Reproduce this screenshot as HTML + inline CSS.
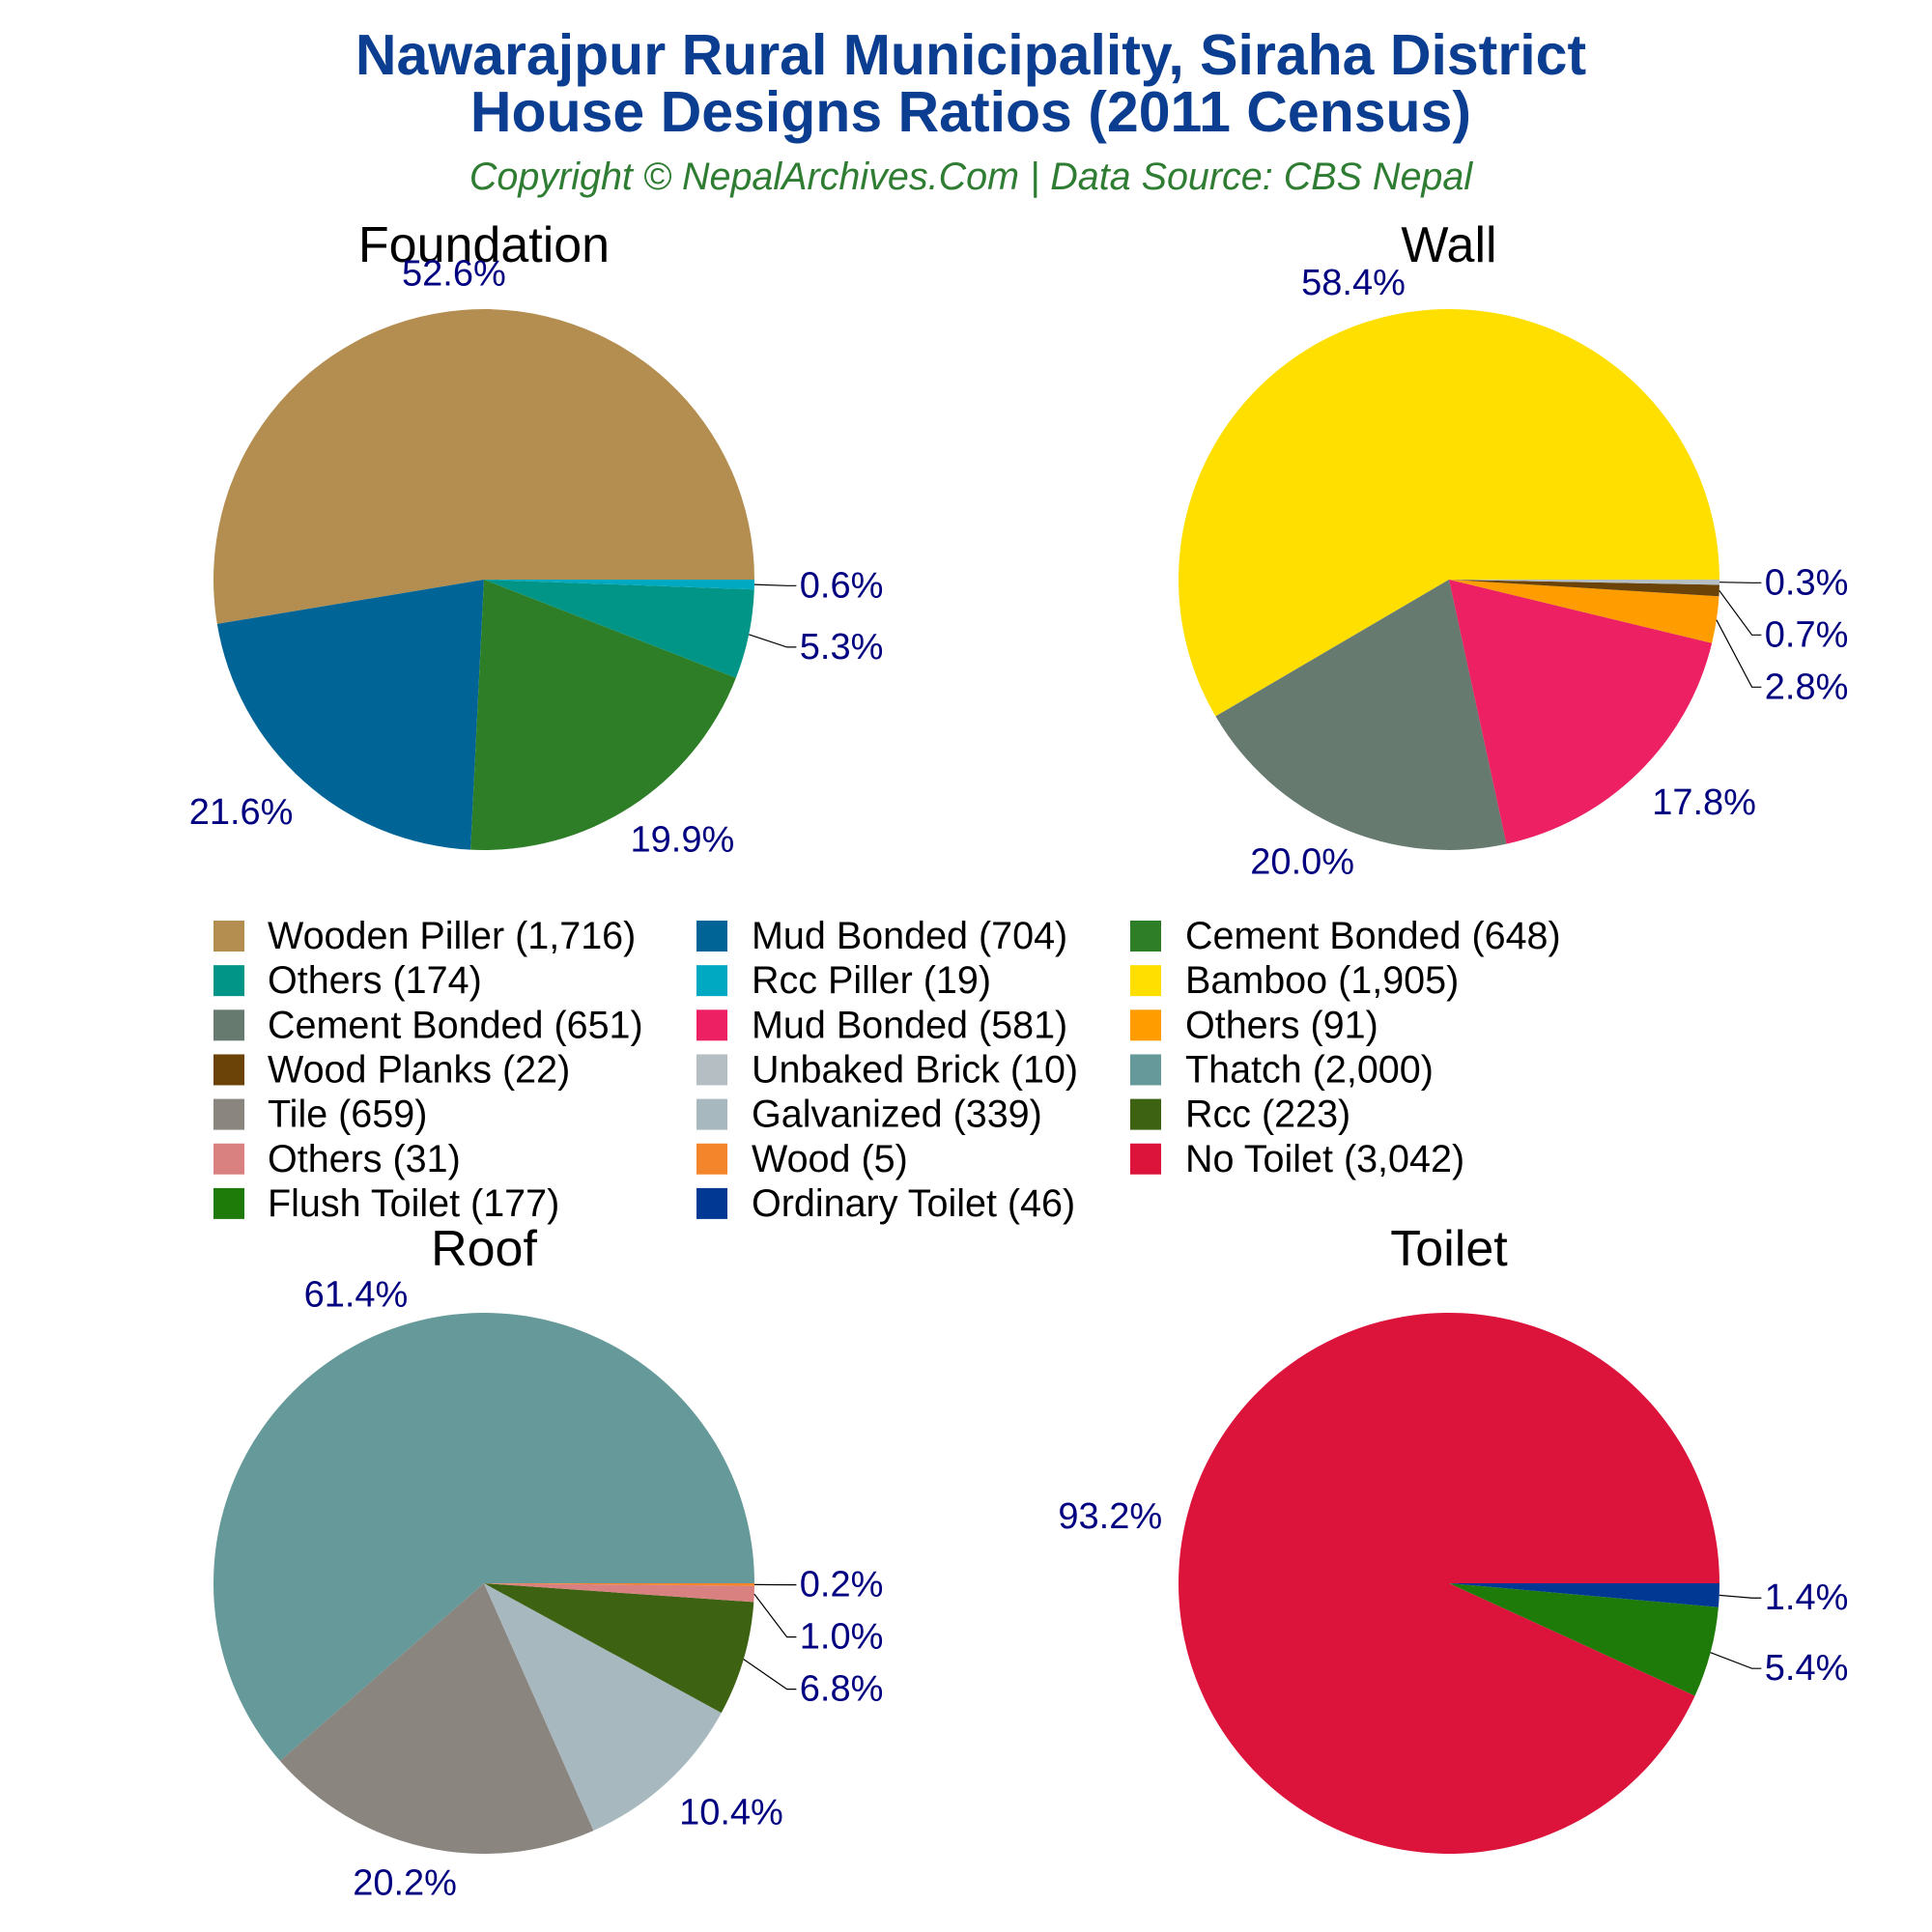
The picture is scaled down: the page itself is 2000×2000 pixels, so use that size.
<!DOCTYPE html>
<html><head><meta charset="utf-8"><style>
html,body{margin:0;padding:0;background:#fff;}
svg{display:block;font-family:"Liberation Sans",Arial,sans-serif;}
</style></head><body>
<svg id="chart" width="2000" height="2000" viewBox="0 0 2000 2000" xmlns="http://www.w3.org/2000/svg">
<rect width="2000" height="2000" fill="#fff"/>
<text x="1005" y="57" text-anchor="middle" dominant-baseline="central" font-size="59" font-weight="bold" fill="#0B3D91">Nawarajpur Rural Municipality, Siraha District</text>
<text x="1005" y="116" text-anchor="middle" dominant-baseline="central" font-size="59" font-weight="bold" fill="#0B3D91">House Designs Ratios (2011 Census)</text>
<text x="1005" y="183" text-anchor="middle" dominant-baseline="central" font-size="39.5" font-style="italic" fill="#2E7D32">Copyright © NepalArchives.Com | Data Source: CBS Nepal</text>
<g id="pies"></g>
<g id="legend"></g>
</svg>
<script>
const foundationLabels=["Wooden Piller","Mud Bonded","Cement Bonded","Others","Rcc Piller"];
const foundationValues=[1716,704,648,174,19];
const foundationColors=["#B38E50","#006496","#2D7E27","#009587","#00A9C2"];
const wallLabels=["Bamboo","Cement Bonded","Mud Bonded","Others","Wood Planks","Unbaked Brick"];
const wallValues=[1905,651,581,91,22,10];
const wallColors=["#FFDF00","#667A70","#EC2062","#FF9D00","#6B4309","#B4BEC3"];
const roofLabels=["Thatch","Tile","Galvanized","Rcc","Others","Wood"];
const roofValues=[2000,659,339,223,31,5];
const roofColors=["#669999","#8B8580","#A8B8BF","#3D6212","#D98080","#F5852A"];
const toiletLabels=["No Toilet","Flush Toilet","Ordinary Toilet"];
const toiletValues=[3042,177,46];
const toiletColors=["#DC143C","#1E7B0A","#003893"];
const panelTitles=["Foundation","Wall","Roof","Toilet"];

const NS="http://www.w3.org/2000/svg";
const R=280;
const HW=58,HH=18;
const panels=[
 {title:panelTitles[0],labels:foundationLabels,values:foundationValues,colors:foundationColors,cx:501,cy:600,ty:254},
 {title:panelTitles[1],labels:wallLabels,values:wallValues,colors:wallColors,cx:1500,cy:600,ty:254},
 {title:panelTitles[2],labels:roofLabels,values:roofValues,colors:roofColors,cx:501,cy:1639,ty:1293},
 {title:panelTitles[3],labels:toiletLabels,values:toiletValues,colors:toiletColors,cx:1500,cy:1639,ty:1293}
];
function mk(tag,attrs,parent){const e=document.createElementNS(NS,tag);for(const k in attrs)e.setAttribute(k,attrs[k]);parent.appendChild(e);return e;}
function sgnClamp(v,k){return Math.sign(v)*Math.min(1,Math.abs(v)*k);}
const pies=document.getElementById('pies');
panels.forEach((p,pi)=>{
  const g=mk('g',{},pies);
  
  
  const t=mk('text',{x:p.cx,y:p.ty,'text-anchor':'middle','dominant-baseline':'central','font-size':52,fill:'#000'},g);
  
  
  t.textContent=p.title;
  const total=p.values.reduce((a,b)=>a+b,0);
  let a0=0;const smalls=[];
  p.values.forEach((v,i)=>{
    const frac=v/total;const a1=a0+frac*2*Math.PI;
    const x0=p.cx+R*Math.cos(a0),y0=p.cy-R*Math.sin(a0);
    const x1=p.cx+R*Math.cos(a1),y1=p.cy-R*Math.sin(a1);
    const large=(a1-a0)>Math.PI?1:0;
    const path=mk('path',{d:`M${p.cx},${p.cy} L${x0},${y0} A${R},${R} 0 ${large} 0 ${x1},${y1} Z`,fill:p.colors[i]},g);
    
    
    const mid=(a0+a1)/2;const pct=(frac*100).toFixed(1)+'%';
    const c=Math.cos(mid),s=Math.sin(mid);
    const px=p.cx+R*1.07*c,py=p.cy-R*1.07*s;
    if(frac*100<8 && c>0){
      smalls.push({mid:mid,pct:pct,ny:py-HH*sgnClamp(s,2.5)});
    }else{
      const lt=mk('text',{x:px+HW*sgnClamp(c,1.35),y:py-HH*sgnClamp(s,1.3),'text-anchor':'middle','dominant-baseline':'central','font-size':38,fill:'#000080'},g);
      
      
      lt.textContent=pct;
    }
    a0=a1;
  });
  smalls.sort((a,b)=>a.ny-b.ny);
  let lastY=-1e9;
  smalls.forEach(sm=>{
    let ly=sm.ny; if(ly<lastY+54)ly=lastY+54; lastY=ly;
    const ex=p.cx+R*Math.cos(sm.mid),ey=p.cy-R*Math.sin(sm.mid);
    const ln=mk('polyline',{points:`${ex},${ey} ${p.cx+R*1.12},${ly} ${p.cx+R*1.155},${ly}`,fill:'none',stroke:'#000','stroke-width':1.2},g);
    
    
    const lt=mk('text',{x:p.cx+R*1.167,y:ly,'text-anchor':'start','dominant-baseline':'central','font-size':38,fill:'#000080'},g);
    
    
    lt.textContent=sm.pct;
  });
});
const leg=document.getElementById('legend');


let idx=0;
const colX=[221,721,1170],textX=[277,778,1227];
panels.forEach(p=>{p.values.forEach((v,i)=>{
  const col=idx%3,row=Math.floor(idx/3);const y=969+row*46.15;
  const eg=mk('g',{},leg);
  
  
  mk('rect',{x:colX[col],y:y-16,width:32,height:32,fill:p.colors[i]},eg);
  const tt=mk('text',{x:textX[col],y:y,'dominant-baseline':'central','font-size':39.5,fill:'#000'},eg);
  tt.textContent=p.labels[i]+' ('+v.toLocaleString('en-US')+')';
  idx++;
});});
</script>
</body></html>
